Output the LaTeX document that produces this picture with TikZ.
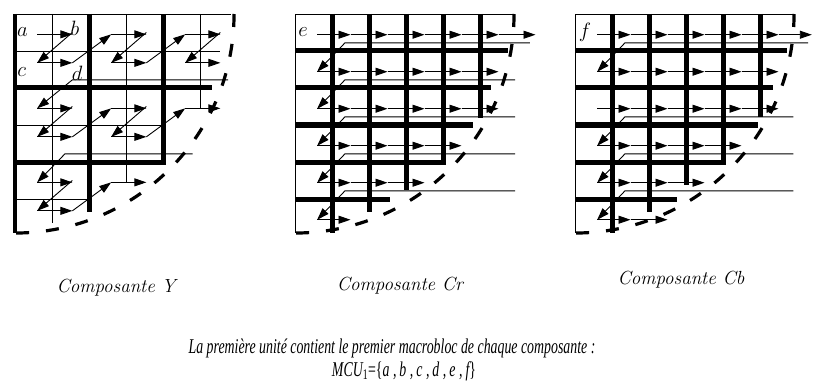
\documentclass[tikz,border=0pt]{standalone}
\usepackage{fontspec}
\usepackage{tikz}
\usetikzlibrary{arrows.meta, positioning}
\newfontfamily\capfont[FakeStretch=0.66]{Liberation Serif}

\begin{document}
\begin{tikzpicture}[x=1pt, y=-1pt,
        thinline/.style={line width=0.9pt},
        thickline/.style={line width=5pt},
        scan/.style={line width=0.9pt, -{Triangle[length=12pt, width=8pt]}},
        cutline/.style={line width=3.2pt, dash pattern=on 13pt off 17pt},
        complabel/.style={font=\fontsize{19}{22}\selectfont\itshape, anchor=base},
        blklabel/.style={font=\fontsize{20}{22}\selectfont, inner sep=0pt},
        caption/.style={font=\capfont\itshape\fontsize{21}{24}\selectfont, anchor=base, inner sep=0pt}]
    \path[use as bounding box] (0,0) rectangle (813,385);

    % composante Y : 2x2 blocs par macrobloc
    \begin{scope}[shift={(15,14)}, x=37pt, y=-37pt]
        \draw[thinline] (0,0) -- (5.85,0)
            (0,1) -- (5.54,1) (0,3) -- (4,3) (0,5) -- (2,5)
            (1,0) -- (1,5.65) (3,0) -- (3,4.54) (5,0) -- (5,2.54);
        \draw[thickline] (0,2) -- (5.32,2) (2,0) -- (2,5.35)
            (0,4) -- (4,4) -- (4,0);
        \draw[line width=3.5pt] (0,0) -- (0,5.92);
        \draw[cutline] (5.92,0) arc[start angle=0, end angle=90, radius=5.92];

        \foreach \X/\Y in {0/0, 2/0, 4/0, 0/2, 2/2, 0/4} {
            \draw[scan] (\X+0.6,\Y+0.55) -- (\X+1.55,\Y+0.55);
            \draw[scan] (\X+1.55,\Y+0.5) -- (\X+0.6,\Y+1.32);
            \draw[scan] (\X+0.6,\Y+1.32) -- (\X+1.55,\Y+1.32);
        }
        \foreach \X/\Y in {0/0, 2/0, 0/2, 2/2, 0/4}
            \draw[scan] (\X+1.55,\Y+1.32) -- (\X+2.6,\Y+0.55);
        \draw[scan] (4.6,2.55) -- (5.55,2.55);
        \draw[scan] (2.6,4.55) -- (3.55,4.55);
        \draw[scan] (5.76,1.78) -- (1.55,1.78) -- (0.6,2.55);
        \draw[scan] (4.8,3.78) -- (1.35,3.78) -- (0.6,4.55);

        \node[blklabel] (a) at (0.2,0.5) {$a$};
        \node[blklabel] (b) at (1.62,0.4) {$b$};
        \node[blklabel] (c) at (0.18,1.58) {$c$};
        \node[blklabel] (d) at (1.68,1.6) {$d$};
    \end{scope}

    % composante Cr : un bloc par macrobloc
    \begin{scope}[shift={(295,14)}, x=37pt, y=-37pt]
        \draw[thinline] (5.92,0) -- (0,0) -- (0,5.92);
        \draw[thickline] (0,1) -- (5.76,1) (0,2) -- (5.3,2) (0,3) -- (4.8,3)
            (0,5) -- (2.57,5) (1,0) -- (1,5.92) (2,0) -- (2,5.35)
            (3,0) -- (3,4.76) (5,0) -- (5,2.8) (0,4) -- (4,4) -- (4,0);
        \draw[cutline] (5.92,0) arc[start angle=0, end angle=90, radius=5.92];

        \foreach \r/\tips in {0/{1.5,2.5,3.5,4.5,5.5,6.5}, 1/{1.5,2.5,3.5,4.5,5.5},
                2/{1.5,2.5,3.5,4.5,5.5}, 3/{1.5,2.5,3.5,4.5}, 4/{1.5,2.5,3.5}, 5/{1.5}}
            \foreach \t [remember=\t as \s (initially 0.6)] in \tips
                \draw[scan] (\s,\r+0.56) -- (\t,\r+0.56);
        \foreach \r/\e in {0/6.35, 1/5.95, 2/5.95, 3/5.95, 4/5.95}
            \draw[scan] (\e,\r+0.78) -- (1.35,\r+0.78) -- (0.6,\r+1.56);

        \node[blklabel] (e) at (0.22,0.5) {$e$};
    \end{scope}

    % composante Cb
    \begin{scope}[shift={(575,14)}, x=37pt, y=-37pt]
        \draw[thinline] (5.92,0) -- (0,0) -- (0,5.92);
        \draw[thickline] (0,1) -- (5.73,1) (0,2) -- (5.35,2) (0,3) -- (4.95,3)
            (0,5) -- (2.76,5) (1,0) -- (1,5.92) (2,0) -- (2,5.35)
            (3,0) -- (3,4.62) (5,0) -- (5,2.78) (0,4) -- (4,4) -- (4,0);
        \draw[cutline] (5.92,0) arc[start angle=0, end angle=90, radius=5.92];

        \foreach \r/\tips in {0/{1.5,2.5,3.5,4.5,5.5,6.4}, 1/{1.5,2.5,3.5,4.5,5.5},
                2/{1.5,2.5,3.5,4.5,5.5}, 3/{1.5,2.5,3.5,4.5}, 4/{1.5,2.5,3.5}, 5/{1.5,2.5}}
            \foreach \t [remember=\t as \s (initially 0.6)] in \tips
                \draw[scan] (\s,\r+0.56) -- (\t,\r+0.56);
        \foreach \r/\e in {0/6.3, 2/5.9, 3/5.9, 4/5.9}
            \draw[scan] (\e,\r+0.78) -- (1.35,\r+0.78) -- (0.6,\r+1.56);

        \node[blklabel] (f) at (0.27,0.5) {$f$};
    \end{scope}

    \node[complabel] (compY) at (116,292) {Composante Y};
    \node[complabel] (compCr) at (400,290) {Composante Cr};
    \node[complabel] (compCb) at (681,284) {Composante Cb};

    \node[caption] (cap1) at (392,353)
        {La première unité contient le premier macrobloc de chaque composante :};
    \node[caption] (cap2) at (404,376)
        {MCU\textsubscript{\upshape 1}{\upshape =\{}a\,,\hspace{3pt}b\,,\hspace{3pt}c\,,\hspace{3pt}d\,,\hspace{3pt}e\,,\hspace{3pt}f{\upshape\}}};
\end{tikzpicture}
\end{document}
